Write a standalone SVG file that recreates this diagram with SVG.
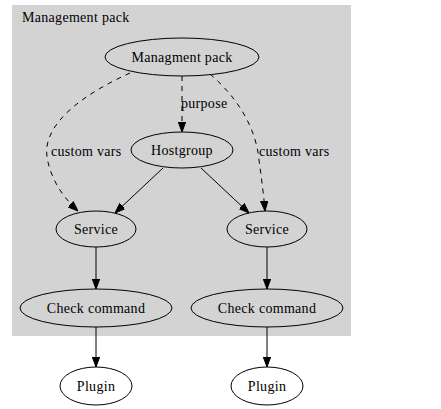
<svg xmlns="http://www.w3.org/2000/svg" width="441" height="409" viewBox="0 0 441 409">
<style>
text{font-family:"Liberation Serif","Times New Roman",serif;font-size:14px;fill:#000;letter-spacing:0.3px}
.n ellipse{stroke:#000;stroke-width:1;fill:none}
.e path{stroke:#000;stroke-width:1;fill:none}
.d{stroke-dasharray:5,5}
</style>
<defs>
<marker id="ah" markerUnits="userSpaceOnUse" markerWidth="10" markerHeight="8" viewBox="0 0 10 8" refX="10" refY="4" orient="auto">
<path d="M0,0.3 L10,4 L0,7.7 Z" fill="#000" stroke="#000" stroke-width="1"/>
</marker>
</defs>
<rect width="441" height="409" fill="#fff"/>
<g id="cluster">
<rect x="12" y="5" width="339" height="331" fill="#d3d3d3"/>
<text x="22" y="22">Management pack</text>
</g>
<g class="e" id="edges">
<path class="d" d="M182,76 L182,132" marker-end="url(#ah)"/>
<text x="181" y="108">purpose</text>
<path class="d" d="M130,73 C88,92 42,122 47,157 C51,182 66,200 78,211" marker-end="url(#ah)"/>
<text x="51" y="156">custom vars</text>
<path class="d" d="M210,74 C238,98 256,128 259,160 C262,182 264,198 265,211" marker-end="url(#ah)"/>
<text x="259" y="156">custom vars</text>
<path d="M163,168 L115,213" marker-end="url(#ah)"/>
<path d="M201,168 L249,213" marker-end="url(#ah)"/>
<path d="M96,247 L96,289" marker-end="url(#ah)"/>
<path d="M267,247 L267,289" marker-end="url(#ah)"/>
<path d="M96,327 L96,367" marker-end="url(#ah)"/>
<path d="M267,327 L267,367" marker-end="url(#ah)"/>
</g>
<g class="n" id="mgmt"><ellipse cx="182" cy="57" rx="77" ry="19"/><text x="182" y="62" text-anchor="middle">Managment pack</text></g>
<g class="n" id="hostgroup"><ellipse cx="182" cy="150" rx="51" ry="18"/><text x="182" y="155" text-anchor="middle">Hostgroup</text></g>
<g class="n" id="service1"><ellipse cx="96" cy="229" rx="40" ry="18"/><text x="96" y="234" text-anchor="middle">Service</text></g>
<g class="n" id="service2"><ellipse cx="267" cy="229" rx="40" ry="18"/><text x="267" y="234" text-anchor="middle">Service</text></g>
<g class="n" id="check1"><ellipse cx="96" cy="308" rx="76" ry="19"/><text x="96" y="313" text-anchor="middle">Check command</text></g>
<g class="n" id="check2"><ellipse cx="267" cy="308" rx="76" ry="19"/><text x="267" y="313" text-anchor="middle">Check command</text></g>
<g class="n" id="plugin1"><ellipse cx="96" cy="386" rx="36" ry="19"/><text x="96" y="391" text-anchor="middle">Plugin</text></g>
<g class="n" id="plugin2"><ellipse cx="267" cy="386" rx="36" ry="19"/><text x="267" y="391" text-anchor="middle">Plugin</text></g>
</svg>
